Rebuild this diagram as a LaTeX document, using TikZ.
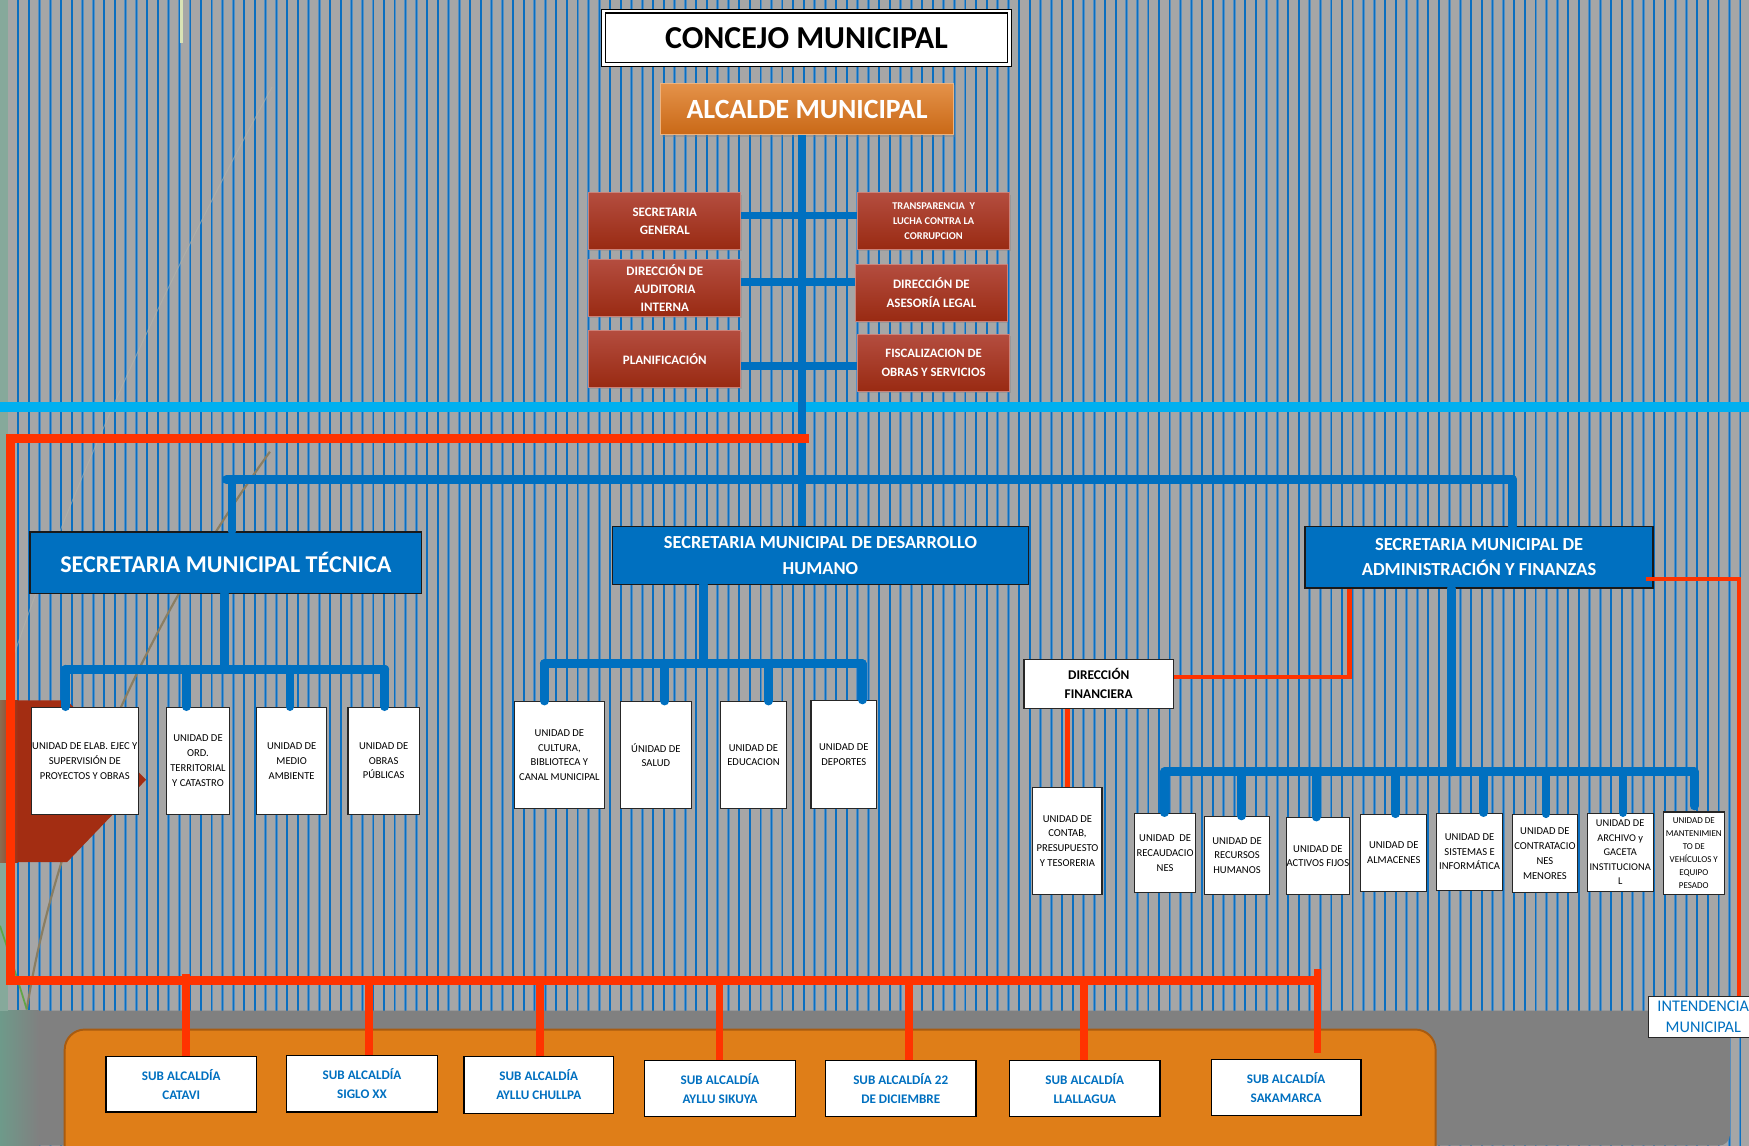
\documentclass[tikz,border=0pt]{standalone}
\usepackage{fontspec}
\setmainfont{Carlito}
\usetikzlibrary{shadows}
\definecolor{bgray}{HTML}{A6A6A6}
\definecolor{stripehalo}{HTML}{5590C4}
\definecolor{stripecore}{HTML}{0B6FC0}
\definecolor{cyanl}{HTML}{00B0F0}
\definecolor{mblue}{HTML}{0070C0}
\definecolor{rline}{HTML}{FF3300}
\definecolor{chev}{HTML}{A32D12}
\definecolor{chevleft}{HTML}{8C6B50}
\definecolor{orgbox}{HTML}{DF7E18}
\definecolor{orgedge}{HTML}{A85B10}
\definecolor{alctop}{HTML}{E49249}
\definecolor{alcbot}{HTML}{C96816}
\definecolor{rbtop}{HTML}{B44D3F}
\definecolor{rbbot}{HTML}{992A12}
\definecolor{dgray}{HTML}{808080}
\definecolor{leftstrip}{HTML}{86A99B}
\definecolor{tealb}{HTML}{6E9A8A}
\definecolor{curvec}{HTML}{8A7E62}
\definecolor{paley}{HTML}{D9E3B5}
\definecolor{faintc}{HTML}{B4B4AA}
\begin{document}
\begin{tikzpicture}[x=0.02cm,y=-0.02cm,
  bx/.style n args={4}{minimum width={(#3-#1)*0.02cm}, minimum height={(#4-#2)*0.02cm}, at={({(#1+#3)/2},{(#2+#4)/2})}},
  bconn/.style={draw=mblue, line width=4.5pt, line cap=round, line join=round},
  sconn/.style={draw=mblue, line width=3.8pt},
  rthick/.style={draw=rline, line width=4.6pt},
  rdrop/.style={draw=rline, line width=3.9pt},
  rthin/.style={draw=rline, line width=2.3pt},
  wbox/.style={draw=black!85, line width=0.6pt, fill=white, inner sep=0pt, align=center, font=\fontsize{5.4}{7.6}\selectfont},
  secbox/.style={draw=black!90, line width=0.8pt, fill=mblue, text=white, inner sep=0pt, align=center, font=\bfseries\fontsize{9.4}{13}\selectfont},
  staffbox/.style={draw=rbtop!70!white, line width=0.5pt, top color=rbtop, bottom color=rbbot, text=white, inner sep=0pt, align=center, font=\bfseries\fontsize{6.6}{9.3}\selectfont, drop shadow={shadow xshift=0.6pt, shadow yshift=-0.8pt, opacity=0.35}},
  subbox/.style={draw=black, line width=0.7pt, fill=white, text=mblue, inner sep=0pt, align=center, font=\bfseries\fontsize{6.7}{9.7}\selectfont}
]
\useasboundingbox (0,0) rectangle (1568,1027);
% background
\fill[bgray] (0,0) rectangle (1568,1027);
\foreach \i in {0,...,162} {
  \fill[stripehalo] ({5.4+9.65*\i},0) rectangle ++(2.2,1027);
  \fill[stripecore] ({5.85+9.65*\i},0) rectangle ++(1.3,1027);
}
% bottom grey area and orange container
\fill[dgray, rounded corners=0.2cm] (-30,906) rectangle (1551,1027);
\shade[left color=tealb, right color=dgray] (0,906) rectangle (35,1027);
\fill[leftstrip] (0,0) rectangle (7,906);
\fill[orgbox, draw=orgedge, line width=1pt, rounded corners=0.36cm] (58,923) rectangle (1287,1045);
% decorative curves
\draw[faintc, line width=0.5pt, opacity=0.6] (244,78) .. controls (160,230) and (60,440) .. (6,607);
\draw[curvec, line width=1.1pt] (242,405) .. controls (130,560) and (50,740) .. (24,905);
\draw[curvec!70!green, line width=0.9pt] (0,830) .. controls (10,860) and (18,885) .. (24,905);
\draw[paley, line width=1.6pt] (163,0) -- (163,39);
% chevron
\fill[chev] (0,628) -- (60,628) -- (131,699) -- (60,773) -- (0,773) -- cycle;
\shade[left color=chevleft, right color=chev] (0,628) rectangle (16,773);
% cyan rule
\fill[cyanl] (0,360) rectangle (1568,369);

% ---------- nodes ----------
\node[bx={541}{10}{905}{58}, inner sep=0pt, draw=black, double=white, double distance=1.3pt, line width=0.7pt, fill=white, font=\bfseries\fontsize{16.3}{19}\selectfont] (concejo) {CONCEJO MUNICIPAL};
\node[bx={592}{75}{855}{121}, inner sep=0pt, draw=alctop!70!white, line width=0.5pt, top color=alctop, bottom color=alcbot, text=white, font=\bfseries\fontsize{14.2}{17}\selectfont, drop shadow={shadow xshift=0.6pt, shadow yshift=-0.8pt, opacity=0.35}] (alc) {ALCALDE MUNICIPAL\hspace{7pt}};

\coordinate (tkx) at (719,0);
\draw[mblue, line width=4.5pt] (alc.south -| tkx) -- (719,472);

\node[staffbox, bx={528}{173}{664}{224}] (sg) {SECRETARIA\\GENERAL};
\node[staffbox, bx={769}{173}{905}{224}, font=\bfseries\fontsize{5.3}{7.6}\selectfont] (tr) {TRANSPARENCIA\ \ Y\\LUCHA CONTRA LA\\CORRUPCION};
\node[staffbox, bx={528}{233}{664}{284}] (au) {DIRECCIÓN DE\\AUDITORIA\\INTERNA};
\node[staffbox, bx={767}{237}{903}{288}, font=\bfseries\fontsize{6.6}{9.7}\selectfont] (al) {DIRECCIÓN DE\\ASESORÍA LEGAL};
\node[staffbox, bx={528}{296}{664}{347}] (pl) {PLANIFICACIÓN};
\node[staffbox, bx={769}{300}{905}{351}, font=\bfseries\fontsize{6.5}{9.7}\selectfont] (fi) {FISCALIZACION DE\\OBRAS Y SERVICIOS};

\draw[sconn] (sg.east |- 0,193) -- (tr.west |- 0,193);
\draw[sconn] (au.east |- 0,253) -- (al.west |- 0,253);
\draw[sconn] (pl.east |- 0,328) -- (fi.west |- 0,328);

\node[secbox, bx={27}{477}{378}{532}, font=\bfseries\fontsize{12.3}{15}\selectfont] (tec) {SECRETARIA MUNICIPAL TÉCNICA};
\node[secbox, bx={549}{472}{922}{524}] (dh) {SECRETARIA MUNICIPAL DE DESARROLLO\\HUMANO};
\node[secbox, bx={1170}{472}{1482}{527}] (adm) {SECRETARIA MUNICIPAL DE\\ADMINISTRACIÓN Y FINANZAS};

\node[wbox, bx={28}{634}{124}{730}] (t1) {UNIDAD DE ELAB. EJEC Y\\SUPERVISIÓN DE\\PROYECTOS Y OBRAS};
\node[wbox, bx={149}{634}{206}{730}] (t2) {UNIDAD DE\\ORD.\\TERRITORIAL\\Y CATASTRO};
\node[wbox, bx={230}{634}{293}{730}] (t3) {UNIDAD DE\\MEDIO\\AMBIENTE};
\node[wbox, bx={312}{634}{376}{730}] (t4) {UNIDAD DE\\OBRAS\\PÚBLICAS};

\node[wbox, bx={461}{629}{542}{725}] (h1) {UNIDAD DE\\CULTURA,\\BIBLIOTECA Y\\CANAL MUNICIPAL};
\node[wbox, bx={556}{629}{620}{725}] (h2) {ÚNIDAD DE\\SALUD};
\node[wbox, bx={646}{629}{705}{725}] (h3) {UNIDAD DE\\EDUCACION};
\node[wbox, bx={727}{628}{786}{725}] (h4) {UNIDAD DE\\DEPORTES};

\node[wbox, bx={918}{591}{1052}{635}, font=\bfseries\fontsize{6.8}{9.7}\selectfont] (df) {DIRECCIÓN\\FINANCIERA};
\node[wbox, bx={926}{706}{988}{802}] (ct) {UNIDAD DE\\CONTAB,\\PRESUPUESTO\\Y TESORERIA};

\node[wbox, bx={1017}{729}{1072}{800}] (a1) {UNIDAD\ \ DE\\RECAUDACIO\\NES};
\node[wbox, bx={1080}{732}{1138}{802}] (a2) {UNIDAD DE\\RECURSOS\\HUMANOS};
\node[wbox, bx={1153}{733}{1210}{802}] (a3) {UNIDAD DE\\ACTIVOS FIJOS};
\node[wbox, bx={1220}{730}{1279}{799}] (a4) {UNIDAD DE\\ALMACENES};
\node[wbox, bx={1288}{729}{1347}{798}] (a5) {UNIDAD DE\\SISTEMAS E\\INFORMÁTICA};
\node[wbox, bx={1356}{730}{1414}{800}] (a6) {UNIDAD DE\\CONTRATACIO\\NES\\MENORES};
\node[wbox, bx={1423}{729}{1482}{799}, font=\fontsize{5.3}{7.4}\selectfont] (a7) {UNIDAD DE\\ARCHIVO y\\GACETA\\INSTITUCIONA\\L};
\node[wbox, bx={1491}{728}{1546}{802}, font=\fontsize{4.6}{6.6}\selectfont] (a8) {UNIDAD DE\\MANTENIMIEN\\TO DE\\VEHÍCULOS Y\\EQUIPO\\PESADO};

\node[wbox, bx={1478}{893}{1576}{930}, text=mblue, font=\fontsize{8.3}{11}\selectfont] (int) {INTENDENCIA\\MUNICIPAL};

\node[subbox, bx={95}{947}{230}{997}] (s1) {SUB ALCALDÍA\\CATAVI};
\node[subbox, bx={257}{946}{392}{997}] (s2) {SUB ALCALDÍA\\SIGLO XX};
\node[subbox, bx={416}{947}{550}{998}] (s3) {SUB ALCALDÍA\\AYLLU CHULLPA};
\node[subbox, bx={578}{951}{713}{1001}] (s4) {SUB ALCALDÍA\\AYLLU SIKUYA};
\node[subbox, bx={740}{951}{875}{1001}] (s5) {SUB ALCALDÍA 22\\DE DICIEMBRE};
\node[subbox, bx={905}{951}{1040}{1001}] (s6) {SUB ALCALDÍA\\LLALLAGUA};
\node[subbox, bx={1086}{950}{1220}{1000}] (s7) {SUB ALCALDÍA\\SAKAMARCA};

% ---------- red connectors ----------
\coordinate (rf1) at (725,393);
\coordinate (rf2) at (9,393);
\coordinate (rf3) at (9,879);
\coordinate (rf4) at (1184,879);
\draw[rthick] (rf1) -- (rf2) -- (rf3) -- (rf4);
\draw[rdrop] (167,873) -- (s1.north -| 167,0);
\draw[rdrop] (331,879) -- (s2.north -| 331,0);
\draw[rdrop] (484,879) -- (s3.north -| 484,0);
\draw[rdrop] (645,879) -- (s4.north -| 645,0);
\draw[rdrop] (815,879) -- (s5.north -| 815,0);
\draw[rdrop] (972,879) -- (s6.north -| 972,0);
\draw[rdrop, shorten >=0.1cm] (1181,869) -- (s7.north -| 1181,0);
\draw[rthin] (adm.south -| 1210,0) -- (1210,607) -- (df.east |- 0,607);
\draw[rthin] (df.south -| 957,0) -- (ct.north -| 957,0);
\draw[rthin] (1476,519) -- (1559,519) -- (int.north -| 1559,0);

% ---------- blue connectors ----------
\draw[bconn] (203,430) -- (1356,430);
\draw[bconn] (208,430) -- (tec.north -| 208,0);
\draw[bconn] (1356,430) -- (adm.north -| 1356,0);

\draw[bconn] (tec.south -| 201,0) -- (201,600);
\draw[bconn] (59,600) -- (345,600);
\foreach \xx/\nn in {59/t1,167/t2,260/t3,345/t4} \draw[bconn] (\xx,600) -- (\nn.north -| \xx,0);

\draw[bconn] (dh.south -| 631,0) -- (631,595);
\draw[bconn] (488,595) -- (773,595);
\foreach \xx/\nn in {488/h1,596/h2,689/h3,773/h4} \draw[bconn] (\xx,595) -- (\nn.north -| \xx,0);

\draw[bconn] (adm.south -| 1301,0) -- (1301,692);
\draw[bconn] (1044,692) -- (1519,692);
\foreach \xx/\nn in {1044/a1,1113/a2,1180/a3,1251/a4,1330/a5,1386/a6,1455/a7} \draw[bconn] (\xx,692) -- (\nn.north -| \xx,0);
\draw[bconn, shorten >=0.1cm] (1519,692) -- (a8.north -| 1519,0);
\end{tikzpicture}
\end{document}
